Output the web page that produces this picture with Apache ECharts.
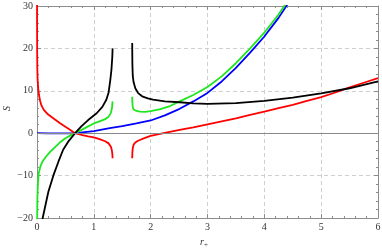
<!DOCTYPE html>
<html>
<head>
<meta charset="utf-8">
<script src="https://cdn.jsdelivr.net/npm/echarts@6/dist/echarts.min.js"></script>
<style>
html,body{margin:0;padding:0;background:#fff;}
#chart{width:382px;height:250px;}
</style>
</head>
<body>
<div id="chart"></div>
<script>
// ---- data ----
const xTicks = [0, 1, 2, 3, 4, 5, 6];
const yTicks = [-20, -10, 0, 10, 20, 30];

// red curve
const redLeftR = [0.0003, 0.001, 0.003, 0.006, 0.012, 0.022, 0.035, 0.055, 0.08, 0.12, 0.18, 0.28, 0.4, 0.5, 0.58, 0.67, 0.8, 0.9, 1.0, 1.1, 1.2, 1.26, 1.3, 1.315, 1.325, 1.33];
const redLeftS = [34, 26, 19, 15, 12.4, 10.5, 9.0, 7.6, 6.5, 5.5, 4.6, 3.6, 2.4, 1.5, 0.8, 0, -0.45, -0.75, -1.0, -1.4, -1.9, -2.4, -3.2, -3.9, -4.8, -5.9];
const redRightR = [1.675, 1.678, 1.685, 1.7, 1.73, 1.77, 1.81, 1.9, 2.0, 2.25, 2.51, 2.75, 3.0, 3.25, 3.5, 3.75, 4.0, 4.25, 4.5, 4.75, 5.0, 5.25, 5.5, 5.75, 6.0];
const redRightS = [-5.9, -4.6, -3.5, -2.7, -2.2, -1.85, -1.6, -1.1, -0.64, 0.1, 0.78, 1.4, 2.1, 2.8, 3.5, 4.3, 5.1, 5.9, 6.7, 7.6, 8.5, 9.6, 10.8, 11.9, 13.0];

// green curve
const greenLeftR = [0.0005, 0.002, 0.006, 0.015, 0.03, 0.06, 0.1, 0.16, 0.23, 0.3, 0.4, 0.5, 0.6, 0.67, 0.8, 0.9, 1.0, 1.1, 1.2, 1.26, 1.3, 1.32, 1.33];
const greenLeftS = [-30, -22, -16, -12, -9.5, -7.8, -6.6, -5.5, -4.4, -3.5, -2.2, -1.2, -0.45, 0, 0.9, 1.6, 2.3, 2.8, 3.3, 3.9, 4.8, 6.0, 7.5];
const greenRightR = [1.675, 1.678, 1.685, 1.7, 1.75, 1.81, 1.9, 2.0, 2.17, 2.34, 2.51, 2.75, 3.0, 3.25, 3.5, 3.75, 4.0, 4.25, 4.5];
const greenRightS = [8.6, 7.2, 6.2, 5.6, 5.25, 5.1, 5.05, 5.2, 5.7, 6.4, 7.5, 9.0, 10.9, 13.4, 16.5, 20.0, 23.7, 28.0, 33.0];

// blue curve
const blueR = [0, 0.2, 0.4, 0.55, 0.67, 0.8, 1.0, 1.28, 1.5, 1.75, 2.0, 2.25, 2.51, 2.75, 3.0, 3.25, 3.5, 3.75, 4.0, 4.25, 4.5];
const blueS = [0, -0.03, -0.05, -0.04, 0, 0.2, 0.5, 1.2, 1.65, 2.3, 3.0, 4.2, 5.75, 7.5, 9.5, 12.2, 15.4, 19.0, 22.8, 27.2, 32.3];

// black curve
const blackLeftR = [0.05, 0.1, 0.2, 0.29, 0.38, 0.46, 0.56, 0.67, 0.78, 0.9, 1.05, 1.15, 1.22, 1.26, 1.29, 1.31, 1.325, 1.33];
const blackLeftS = [-28, -20, -13.8, -9.9, -6.6, -3.9, -1.8, 0, 1.6, 3.1, 4.7, 6.2, 7.9, 9.6, 12.6, 15.0, 18.0, 20.0];
const blackRightR = [1.675, 1.678, 1.685, 1.7, 1.73, 1.78, 1.85, 1.95, 2.04, 2.25, 2.51, 2.75, 3.0, 3.5, 4.0, 4.5, 5.0, 5.5, 6.0];
const blackRightS = [21.3, 16.5, 13.5, 12.0, 10.6, 9.45, 8.7, 8.2, 7.9, 7.5, 7.3, 7.05, 6.9, 7.1, 7.6, 8.4, 9.4, 10.6, 12.2];

// ---- build ----
function zip(a, b) { return a.map((v, i) => [v, b[i]]); }
const fmt = v => (v < 0 ? '\u2212' + Math.abs(v) : String(v));

const chart = echarts.init(document.getElementById('chart'), null, {renderer: 'canvas'});
const frameColor = '#8c8c8c';
const labelFont = {fontFamily: 'Liberation Serif', fontSize: 10, color: '#333'};
const gridLine = {show: true, lineStyle: {color: '#cfcfcf', type: [4, 3], width: 1}};

function xAx(pos, showLabel) {
  return {
    type: 'value', position: pos, min: xTicks[0], max: xTicks[xTicks.length - 1], interval: 1,
    axisLine: {show: true, onZero: false, lineStyle: {color: frameColor, width: 1}},
    axisTick: {show: true, inside: true, length: 4, lineStyle: {color: frameColor}},
    minorTick: {show: true, splitNumber: 5, length: 2, lineStyle: {color: frameColor}},
    splitLine: pos === 'bottom' ? gridLine : {show: false},
    axisLabel: Object.assign({show: showLabel, margin: 4, formatter: fmt, hideOverlap: false}, labelFont)
  };
}
function yAx(pos, showLabel) {
  return {
    type: 'value', position: pos, min: yTicks[0], max: yTicks[yTicks.length - 1], interval: 10,
    axisLine: {show: true, onZero: false, lineStyle: {color: frameColor, width: 1}},
    axisTick: {show: true, inside: true, length: 4, lineStyle: {color: frameColor}},
    minorTick: {show: true, splitNumber: 5, length: 2, lineStyle: {color: frameColor}},
    splitLine: pos === 'left' ? gridLine : {show: false},
    axisLabel: Object.assign({show: showLabel, margin: 4, formatter: fmt, hideOverlap: false, align: 'right'}, labelFont)
  };
}

function curve(r, s, color) {
  return {
    type: 'line', xAxisIndex: 0, yAxisIndex: 0, data: zip(r, s),
    showSymbol: false, symbol: 'none', smooth: false, clip: true, silent: true,
    lineStyle: {color: color, width: 1.8}, z: 3
  };
}

const RED = '#ff0000', GREEN = '#1ee61e', BLUE = '#0000ff', BLACK = '#000000';

chart.setOption({
  animation: false,
  backgroundColor: '#fff',
  grid: {left: 37, right: 4, top: 6, bottom: 32, containLabel: false, outerBoundsMode: 'none'},
  xAxis: [xAx('bottom', true), xAx('top', false)],
  yAxis: [yAx('left', true), yAx('right', false)],
  graphic: [
    {type: 'text', left: 2, top: 106, rotation: Math.PI / 2,
     style: {text: 'S', font: 'italic 10px "Liberation Serif"', fill: '#333'}},
    {type: 'text', left: 200, top: 237,
     style: {text: '{i|r}{s|+}', rich: {
       i: {fontFamily: 'Liberation Serif', fontStyle: 'italic', fontSize: 10, fill: '#333'},
       s: {fontFamily: 'Liberation Serif', fontSize: 7, fill: '#333', padding: [7, 0, 0, 0]}
     }}}
  ],
  series: [
    {
      type: 'line', xAxisIndex: 0, yAxisIndex: 0, data: [], silent: true, z: 2,
      markLine: {
        silent: true, symbol: 'none', label: {show: false},
        lineStyle: {color: '#888', type: 'solid', width: 1},
        data: [{yAxis: 0}]
      }
    },
    curve(blueR, blueS, BLUE),
    curve(greenLeftR, greenLeftS, GREEN),
    curve(greenRightR, greenRightS, GREEN),
    curve(redLeftR, redLeftS, RED),
    curve(redRightR, redRightS, RED),
    curve(blackLeftR, blackLeftS, BLACK),
    curve(blackRightR, blackRightS, BLACK)
  ]
});
</script>
</body>
</html>
